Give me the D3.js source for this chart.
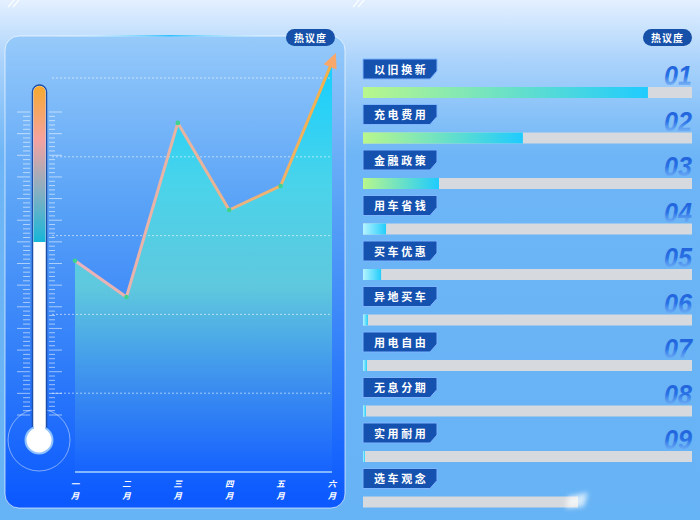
<!DOCTYPE html>
<html><head><meta charset="utf-8">
<script src="https://cdn.jsdelivr.net/npm/d3@7"></script>
<style>html,body{margin:0;padding:0;background:#64b1f5;}svg{display:block;}</style>
</head><body>
<svg id="c" width="700" height="520"></svg>
<script>
const months = ["一月","二月","三月","四月","五月","六月"];
const heatValues = [53.6, 44.4, 88.6, 66.5, 72.6, 104];
const gridValues = [20, 40, 60, 80, 100];
const topics = ["以旧换新","充电费用","金融政策","用车省钱","买车优惠","异地买车","用电自由","无息分期","实用耐用","选车观念"];
const topicValues = [86.6, 48.6, 23.1, 7.0, 5.5, 1.5, 1.2, 0.9, 0.6, 0];
const ranks = ["01","02","03","04","05","06","07","08","09"];
const badgeText = "热议度";

const svg = d3.select("#c");
const defs = svg.append("defs");
const FONT = "'Noto Sans CJK SC','Noto Sans',sans-serif";

function lg(id, stops, attrs) {
  const g = defs.append("linearGradient").attr("id", id);
  Object.entries(attrs || {x1:0,y1:0,x2:0,y2:1}).forEach(([k,v]) => g.attr(k, v));
  stops.forEach(s => g.append("stop").attr("offset", s[0]).attr("stop-color", s[1]).attr("stop-opacity", s[2] == null ? 1 : s[2]));
  return g;
}
lg("bg", [[0,"#e4f0ff"],[0.12,"#a9d2fb"],[0.3,"#6db5f6"],[1,"#66b3f5"]]);
lg("panel", [[0,"#96cafa"],[0.35,"#5aa3f7"],[0.7,"#2f7cfa"],[1,"#0a58ff"]]);
lg("topGlow", [[0,"#ffffff",0],[0.5,"#2fc0ff",1],[1,"#ffffff",0]], {x1:0,y1:0,x2:1,y2:0});
lg("thermo", [[0,"#f7a92c"],[0.35,"#f5a2a0"],[0.7,"#7fb0c4"],[1,"#16b6d8"]]);
lg("area", [[0,"#16cffe"],[0.3,"#4ad3ea"],[0.55,"#5fc8de"],[0.8,"#3a8cf0"],[1,"#1663ff"]], {x1:0,y1:62,x2:0,y2:472,gradientUnits:"userSpaceOnUse"});
lg("line", [[0,"#eab2bc"],[0.5,"#e8b49a"],[1,"#f4b048"]], {x1:75,y1:0,x2:332,y2:0,gradientUnits:"userSpaceOnUse"});
lg("barFill", [[0,"#b8f78c"],[1,"#1fcbff"]], {x1:0,y1:0,x2:1,y2:0});
lg("barFillS", [[0,"#b5f3ff"],[1,"#23cdfb"]], {x1:0,y1:0,x2:1,y2:0});
lg("num", [[0,"#1c5bd6"],[0.5,"#2a72e6"],[1,"#8cc2fb",0.45]]);
const blur = defs.append("filter").attr("id","blur").attr("x","-50%").attr("y","-50%").attr("width","200%").attr("height","200%");
blur.append("feGaussianBlur").attr("stdDeviation", 2.5);

// background
svg.append("rect").attr("width",700).attr("height",520).attr("fill","url(#bg)");
// decorative slashes
[[8,0],[13,0],[353,0],[358,0]].forEach(p => svg.append("line").attr("x1",p[0]).attr("y1",7).attr("x2",p[0]+6).attr("y2",0).attr("stroke","#fff").attr("stroke-width",1.2).attr("opacity",0.9));

// left panel
svg.append("rect").attr("x",5).attr("y",36).attr("width",340).attr("height",472).attr("rx",14)
  .attr("fill","url(#panel)").attr("stroke","rgba(255,255,255,0.65)").attr("stroke-width",1);
svg.append("rect").attr("x",50).attr("y",35).attr("width",240).attr("height",1.6).attr("fill","url(#topGlow)");

// scales
const x = d3.scalePoint().domain(months).range([75, 332]);
const y = d3.scaleLinear().domain([0, 100]).range([472, 78]);

// area
const pts = months.map((m,i)=>[x(m), y(heatValues[i])]);
svg.append("path").datum(pts).attr("fill","url(#area)")
  .attr("d", d3.area().x(d=>d[0]).y0(y(0)).y1(d=>d[1]));

// gridlines
svg.append("g").selectAll("line").data(gridValues).join("line")
  .attr("x1",52).attr("x2",332).attr("y1",d=>y(d)).attr("y2",d=>y(d))
  .attr("stroke","rgba(255,255,255,0.55)").attr("stroke-width",1).attr("stroke-dasharray","2,2");

// line
svg.append("path").datum(pts).attr("fill","none").attr("stroke","url(#line)").attr("stroke-width",3)
  .attr("stroke-linejoin","round").attr("d", d3.line());
// arrow head at end
const a = pts[pts.length-2], b = pts[pts.length-1];
const ang = Math.atan2(b[1]-a[1], b[0]-a[0]);
svg.append("path").attr("d","M8,0 L-7,-7 L-7,7 Z").attr("fill","#f7a86a")
  .attr("transform",`translate(${b[0]+Math.cos(ang)*2},${b[1]+Math.sin(ang)*2}) rotate(${ang*180/Math.PI})`);
svg.append("g").selectAll("circle").data(pts.slice(0,-1)).join("circle")
  .attr("cx",d=>d[0]).attr("cy",d=>d[1]).attr("r",2.3).attr("fill","#3ed38e");

// x axis
svg.append("line").attr("x1",75).attr("x2",332).attr("y1",y(0)).attr("y2",y(0)).attr("stroke","#a9d3ff").attr("stroke-width",1.5);
const xg = svg.append("g").selectAll("g").data(months).join("g");
[0,1].forEach(k => {
  xg.append("text").attr("x",d=>x(d)).attr("y",k===0?487:498.5).attr("text-anchor","middle").attr("fill","#fff")
    .attr("font-family",FONT).attr("font-size",8.5).attr("font-weight","bold").attr("font-style","italic")
    .text(d=>d.charAt(k));
});

// thermometer
const tg = svg.append("g");
const tickTop = 112, tickBot = 415, nT = 70;
d3.range(nT+1).forEach(i => {
  const ty = tickTop + (tickBot-tickTop)*i/nT;
  const long = i % 5 === 0;
  tg.append("line").attr("x1", long?17:23).attr("x2",30).attr("y1",ty).attr("y2",ty).attr("stroke","rgba(255,255,255,0.55)").attr("stroke-width",1);
  tg.append("line").attr("x1",49).attr("x2", long?62:55).attr("y1",ty).attr("y2",ty).attr("stroke","rgba(255,255,255,0.55)").attr("stroke-width",1);
});
tg.append("circle").attr("cx",39).attr("cy",440).attr("r",31).attr("fill","none").attr("stroke","rgba(255,255,255,0.45)").attr("stroke-width",1);
tg.append("rect").attr("x",32.5).attr("y",85).attr("width",14).attr("height",360).attr("rx",7).attr("fill","#fff").attr("stroke","#1d4fa8").attr("stroke-width",1.5);
defs.append("clipPath").attr("id","tube").append("rect").attr("x",33.5).attr("y",86).attr("width",12).attr("height",360).attr("rx",6);
tg.append("rect").attr("clip-path","url(#tube)").attr("x",33).attr("y",85).attr("width",13).attr("height",157).attr("fill","url(#thermo)");
tg.append("circle").attr("cx",39).attr("cy",440).attr("r",13.5).attr("fill","#fff").attr("stroke","#8fc2ff").attr("stroke-width",2);
tg.append("rect").attr("x",34).attr("y",420).attr("width",11).attr("height",12).attr("fill","#fff");

// badges
function badge(x0, y0) {
  svg.append("rect").attr("x",x0).attr("y",y0).attr("width",49).attr("height",17).attr("rx",8.5).attr("fill","#1650a8");
  svg.append("text").attr("x",x0+24.5).attr("y",y0+12.5).attr("text-anchor","middle").attr("fill","#fff")
    .attr("font-family",FONT).attr("font-size",10).attr("font-weight","bold").attr("letter-spacing",1).text(badgeText);
}
badge(286, 29);
badge(643, 29);

// right list
const bx = d3.scaleLinear().domain([0,100]).range([363, 692]);
const rows = svg.append("g").selectAll("g").data(topics).join("g")
  .attr("transform",(d,i)=>`translate(0,${59 + i*45.5})`);
rows.append("path").attr("d","M363,0 H437 V12 L430,20 H363 Z").attr("fill","#1552b0").attr("stroke","#7fb4ff").attr("stroke-width",1);
rows.append("text").attr("x",374).attr("y",14.5).attr("fill","#fff").attr("font-family",FONT)
  .attr("font-size",11).attr("font-weight","bold").attr("letter-spacing",2.6).text(d=>d);
rows.append("rect").attr("x",363).attr("y",28).attr("height",11)
  .attr("width",(d,i)=> i===topics.length-1 ? 215 : bx(100)-bx(0)).attr("fill","#d6d9de");
rows.append("rect").attr("x",363).attr("y",28).attr("height",11)
  .attr("width",(d,i)=>bx(topicValues[i])-bx(0))
  .attr("fill",(d,i)=> (bx(topicValues[i])-bx(0)) > 40 ? "url(#barFill)" : "url(#barFillS)");
rows.filter((d,i)=>i===topics.length-1).append("path").attr("d","M568,28 L588,24 L584,38 L566,40 Z")
  .attr("fill","rgba(255,255,255,0.7)").attr("filter","url(#blur)");
rows.filter((d,i)=>i<ranks.length).append("text").attr("x",692).attr("y",26).attr("text-anchor","end")
  .attr("font-family","'Liberation Sans',Arial,sans-serif").attr("font-size",27).attr("font-weight","bold").attr("font-style","italic")
  .attr("textLength",28).attr("lengthAdjust","spacingAndGlyphs")
  .attr("fill","url(#num)").text((d,i)=>ranks[i]);
</script>
</body></html>
